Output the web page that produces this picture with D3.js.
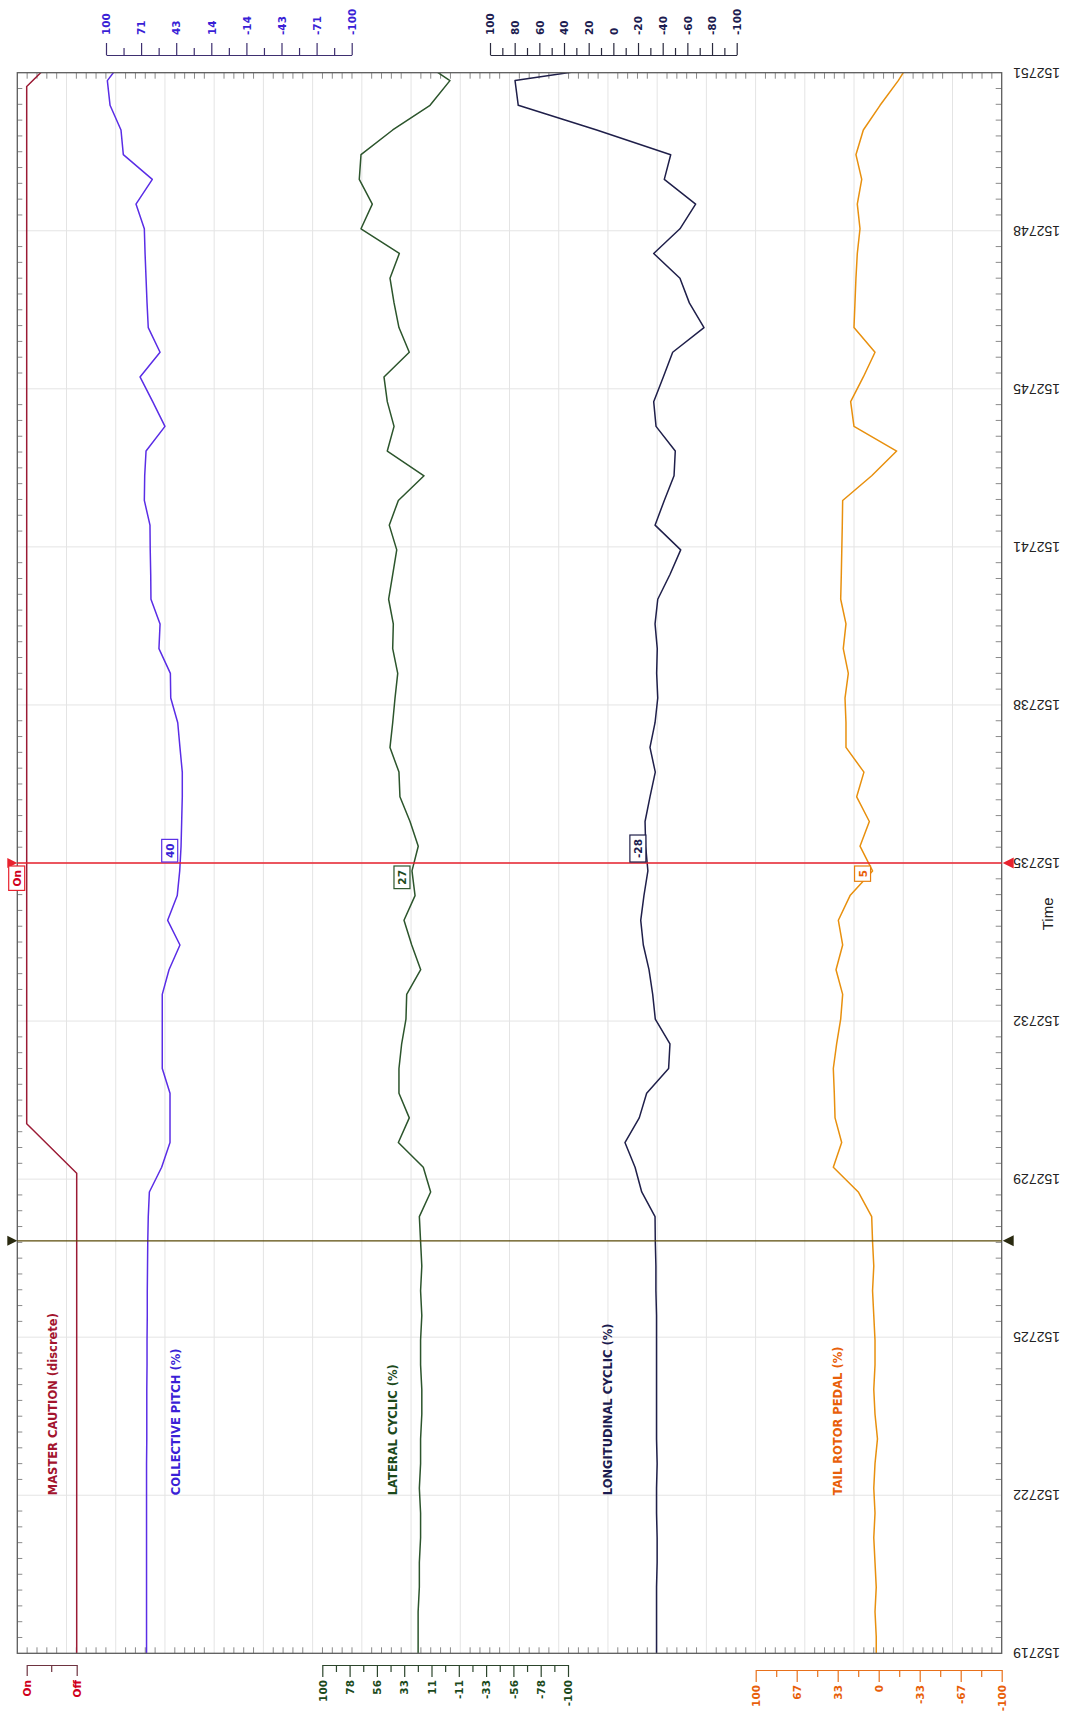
<!DOCTYPE html>
<html>
<head>
<meta charset="utf-8">
<script src="https://cdn.jsdelivr.net/npm/d3@7"></script>
<style>
  html, body { margin: 0; padding: 0; background: #ffffff; }
  svg { display: block; }
  .tick-label { font-family: "DejaVu Sans", Verdana, sans-serif; font-weight: bold; font-size: 10.5px; }
  .series-title { font-family: "DejaVu Sans", Verdana, sans-serif; font-weight: bold; font-size: 11.5px; }
  .time-label { font-family: "Liberation Sans", Arial, sans-serif; font-size: 14px; fill: #222; }
  .value-box text { font-family: "DejaVu Sans", Verdana, sans-serif; font-weight: bold; font-size: 10.5px; }
</style>
</head>
<body>
<svg id="chart" width="1073" height="1722"></svg>
<script>
// ---- Recorder data: seconds past 15:27:00, 2 Hz frames ----
const sampleTimes = d3.range(66).map(i => 18.84 + 0.5 * i);

const collectivePitch = [67, 67, 67, 67, 67, 67, 67, 67, 67, 66.8, 66.8, 66.8, 66.6, 66.6, 66.4, 66.4, 66.2, 66,
  65.6, 64.7, 54.7, 47.9, 47.9, 47.9, 54.2, 54.2, 54.2, 54.2, 48.7, 39.8, 49.8, 42, 40, 38.9, 38.4, 37.9, 37.9,
  39.8, 41.6, 47.3, 47.6, 56.9, 56, 63.4, 63.6, 64, 64.2, 68.8, 68.5, 67.4, 52, 62, 72.3, 56, 65.6, 66.6, 67.4,
  68.2, 68.8, 75.6, 62.3, 85.9, 87.8, 96.7, 98.9, 83.6];

const lateralCyclic = [22, 22, 22, 21, 21, 20, 20, 21, 20, 20, 19, 19, 20, 20, 19, 20, 19, 20,
  21, 11.8, 17.8, 38.1, 29.2, 37.6, 37.6, 35.4, 31.9, 31.3, 19.9, 27.2, 33.5, 24.5, 27, 21.9, 28.6, 36.8, 37.6,
  44.9, 42.7, 40.8, 38.6, 42.7, 42.2, 46, 42.7, 39.4, 45.5, 38.1, 17.2, 47.1, 41.6, 47.1, 49.8, 29.2, 37.6, 41.6,
  44.9, 37.3, 68.5, 59.3, 69.9, 68.5, 42.7, 12.3, -3.9, 26.2];

const longitudinalCyclic = [-35, -35, -35, -35, -35.5, -35.5, -35, -35, -35.5, -35, -35, -35, -35, -35, -35, -34.5, -34.5, -34,
  -33.8, -23, -17.6, -9.4, -21, -27, -44.8, -45.9, -34, -31.9, -28.9, -24.3, -22.2, -24.8, -28, -26.2, -25.7, -29.7,
  -34, -29.7, -33.8, -36, -35.1, -35.6, -33.8, -36, -45.9, -54.6, -33.8, -41.3, -49.2, -50.2, -34.6, -32.7, -40.5,
  -48.1, -73.5, -61.6, -54, -32.7, -54, -66.7, -41.3, -46.5, 13.5, 77.1, 79.7, -55];

const tailRotorPedal = [2, 2, 3, 2, 3, 4, 3, 4, 3, 1, 3, 4, 3, 3, 4, 5, 4, 5,
  5.7, 16.6, 36.9, 30.1, 35.5, 36.1, 36.9, 34.2, 30.9, 29.3, 34.7, 29.3, 32.8, 23.3, 5, 15.2, 7.6, 17.9, 12,
  26.6, 26.6, 27.4, 24.7, 28.8, 26.6, 30.9, 30.4, 30, 29.6, 29.3, 5.7, -14.6, 20.1, 22.8, 12.5, 3, 20.1, 19.3,
  18.5, 17.4, 15.2, 17.4, 13.8, 18.5, 12.5, -1.1, -15.9, -28.7];

// Discrete parameter, 1 Hz frames
const masterTimes = d3.range(34).map(i => 18.72 + i);
const masterCaution = ["Off", "Off", "Off", "Off", "Off", "Off", "Off", "Off", "Off", "Off", "Off",
  "On", "On", "On", "On", "On", "On", "On", "On", "On", "On", "On", "On", "On", "On", "On", "On", "On", "On", "On",
  "On", "On", "On", "Off"];

// Axis tick labels
const timeTickLabels = ["152719", "152722", "152725", "152729", "152732", "152735", "152738", "152741", "152745", "152748", "152751"];
const collectiveTicks = ["100", "71", "43", "14", "-14", "-43", "-71", "-100"];
const longitudinalTicks = ["100", "80", "60", "40", "20", "0", "-20", "-40", "-60", "-80", "-100"];
const lateralTicks = ["100", "78", "56", "33", "11", "-11", "-33", "-56", "-78", "-100"];
const tailTicks = ["100", "67", "33", "0", "-33", "-67", "-100"];
const masterTicks = ["On", "Off"];

// Cursors
const cursorTime = 35.0;      // 15:27:35
const markerTime = 27.35;

// ---- Layout ----
const plot = { left: 17.3, right: 1001.7, top: 72.7, bottom: 1653.3 };
const svg = d3.select("#chart");

const tScale = d3.scaleLinear().domain([19, 51]).range([plot.bottom, plot.top]);
const gridX = d3.scaleLinear().domain([0, 20]).range([plot.left, plot.right]);

const colX = d3.scaleLinear().domain([100, -100]).range([106, 351.7]);
const latX = d3.scaleLinear().domain([100, -100]).range([322.3, 568]);
const lonX = d3.scaleLinear().domain([100, -100]).range([490, 736.7]);
const tailX = d3.scaleLinear().domain([100, -100]).range([755.7, 1001.7]);
const masterX = d3.scalePoint().domain(masterTicks).range([26.7, 76.7]);

const timeTickValues = d3.range(11).map(i => 19 + 3.2 * i);

// ---- Grid ----
const grid = svg.append("g");
grid.selectAll("line.gx").data(d3.range(1, 20)).join("line")
  .attr("class", "gx")
  .attr("x1", d => gridX(d)).attr("x2", d => gridX(d))
  .attr("y1", plot.top).attr("y2", plot.bottom)
  .attr("stroke", "#e4e4e4").attr("stroke-width", 1);
grid.selectAll("line.gy").data(timeTickValues.slice(1, -1)).join("line")
  .attr("class", "gy")
  .attr("y1", d => tScale(d)).attr("y2", d => tScale(d))
  .attr("x1", plot.left).attr("x2", plot.right)
  .attr("stroke", "#e4e4e4").attr("stroke-width", 1);

// Edge minor ticks
const minorX = d3.range(1, 100).filter(i => i % 5 !== 0).map(i => i / 5);
const minorT = d3.range(1, 100).filter(i => i % 10 !== 0).map(i => 19 + 0.32 * i);
const edge = svg.append("g").attr("stroke", "#8a8a8a").attr("stroke-width", 1);
edge.selectAll("line.mt").data(minorX).join("line").attr("class", "mt")
  .attr("x1", d => gridX(d)).attr("x2", d => gridX(d)).attr("y1", plot.top).attr("y2", plot.top + 6);
edge.selectAll("line.mb").data(minorX).join("line").attr("class", "mb")
  .attr("x1", d => gridX(d)).attr("x2", d => gridX(d)).attr("y1", plot.bottom).attr("y2", plot.bottom - 6);
edge.selectAll("line.ml").data(minorT).join("line").attr("class", "ml")
  .attr("y1", d => tScale(d)).attr("y2", d => tScale(d)).attr("x1", plot.left).attr("x2", plot.left + 5);
edge.selectAll("line.mr").data(minorT).join("line").attr("class", "mr")
  .attr("y1", d => tScale(d)).attr("y2", d => tScale(d)).attr("x1", plot.right).attr("x2", plot.right - 6);

// ---- Clip ----
svg.append("defs").append("clipPath").attr("id", "plot-clip")
  .append("rect").attr("x", plot.left).attr("y", plot.top)
  .attr("width", plot.right - plot.left).attr("height", plot.bottom - plot.top);

// ---- Series ----
const series = [
  { name: "COLLECTIVE PITCH (%)", values: collectivePitch, x: colX, line: "#5a2de6", text: "#3a1fd6", axis: "#3e2f70",
    box: "#5a2de6", ticks: collectiveTicks, side: "top", axisY: 55, titleX: 180, boxSide: "above" },
  { name: "LATERAL CYCLIC (%)", values: lateralCyclic, x: latX, line: "#2c552c", text: "#1c4a1c", axis: "#2c452c",
    box: "#2c552c", ticks: lateralTicks, side: "bottom", axisY: 1665, titleX: 396.5, boxSide: "below" },
  { name: "LONGITUDINAL CYCLIC (%)", values: longitudinalCyclic, x: lonX, line: "#1f1f4a", text: "#1c1c50", axis: "#2a2a3e",
    box: "#1f1f4a", ticks: longitudinalTicks, side: "top", axisY: 55, titleX: 611.7, boxSide: "above" },
  { name: "TAIL ROTOR PEDAL (%)", values: tailRotorPedal, x: tailX, line: "#e8900e", text: "#e8600a", axis: "#e8701a",
    box: "#e8800e", ticks: tailTicks, side: "bottom", axisY: 1670, titleX: 841.7, boxSide: "below" }
];

const lines = svg.append("g").attr("clip-path", "url(#plot-clip)");

// Master caution (discrete)
const masterData = masterTimes.map((t, i) => ({ t, s: masterCaution[i] }));
lines.append("path")
  .datum(masterData)
  .attr("fill", "none").attr("stroke", "#9b1b35").attr("stroke-width", 1.5)
  .attr("d", d3.line().x(d => masterX(d.s)).y(d => tScale(d.t)));

series.forEach(s => {
  const data = sampleTimes.map((t, i) => ({ t, v: s.values[i] }));
  lines.append("path")
    .datum(data)
    .attr("fill", "none").attr("stroke", s.line).attr("stroke-width", 1.5)
    .attr("stroke-linejoin", "round")
    .attr("d", d3.line().x(d => s.x(d.v)).y(d => tScale(d.t)));
});

// ---- Value axes ----
function styleAxisLabels(g, side, color, offset) {
  g.selectAll(".tick text")
    .attr("class", "tick-label")
    .attr("fill", color)
    .attr("x", 0).attr("y", 0).attr("dy", "0.36em")
    .attr("text-anchor", side === "top" ? "start" : "end")
    .attr("transform", `translate(0,${offset}) rotate(-90)`);
}

series.forEach(s => {
  const n = s.ticks.length;
  const major = d3.range(n).map(i => 100 - 200 * i / (n - 1));
  const minor = d3.range(n - 1).map(i => (major[i] + major[i + 1]) / 2);
  const axisFn = s.side === "top" ? d3.axisTop : d3.axisBottom;
  const g = svg.append("g").attr("transform", `translate(0,${s.axisY})`);
  g.call(axisFn(s.x).tickValues(major).tickFormat((d, i) => s.ticks[i]).tickSize(12).tickSizeOuter(0));
  g.append("g").call(axisFn(s.x).tickValues(minor).tickFormat("").tickSize(7).tickSizeOuter(0))
    .select(".domain").remove();
  g.selectAll("path.domain, line").attr("stroke", s.axis).attr("stroke-width", 1.2);
  styleAxisLabels(g, s.side, s.text, s.side === "top" ? -20 : 15);
});

// Master caution axis
{
  const g = svg.append("g").attr("transform", "translate(0,1665)");
  g.call(d3.axisBottom(masterX).tickSize(11).tickSizeOuter(0));
  g.append("line")
    .attr("x1", (masterX("On") + masterX("Off")) / 2).attr("x2", (masterX("On") + masterX("Off")) / 2)
    .attr("y1", 0).attr("y2", 7);
  g.selectAll("path.domain, line").attr("stroke", "#6e3340").attr("stroke-width", 1.2);
  styleAxisLabels(g, "bottom", "#d0001c", 15);
}

// ---- Series titles ----
const titleY = tScale(timeTickValues[1]);
svg.append("text").attr("class", "series-title")
  .attr("transform", `translate(56.7,${titleY}) rotate(-90)`)
  .attr("fill", "#a3142e").text("MASTER CAUTION (discrete)");
series.forEach(s => {
  svg.append("text").attr("class", "series-title")
    .attr("transform", `translate(${s.titleX},${titleY}) rotate(-90)`)
    .attr("fill", s.text).text(s.name);
});

// ---- Time axis ----
svg.selectAll("text.time-label").data(timeTickValues).join("text")
  .attr("class", "time-label")
  .attr("transform", d => `translate(1060,${tScale(d)}) rotate(180)`)
  .attr("text-anchor", "start").attr("dominant-baseline", "central")
  .text((d, i) => timeTickLabels[i]);
svg.append("text").attr("class", "time-label")
  .style("font-size", "15px")
  .attr("transform", `translate(1047,${tScale(33.97)}) rotate(-90)`)
  .attr("text-anchor", "middle").attr("dominant-baseline", "central")
  .text("Time");

// ---- Frame ----
svg.append("rect")
  .attr("x", plot.left).attr("y", plot.top)
  .attr("width", plot.right - plot.left).attr("height", plot.bottom - plot.top)
  .attr("fill", "none").attr("stroke", "#5c5c5c").attr("stroke-width", 1.3);

// ---- Cursors ----
function cursor(t, color, markColor) {
  const y = tScale(t);
  const g = svg.append("g");
  g.append("line").attr("x1", plot.left).attr("x2", plot.right).attr("y1", y).attr("y2", y)
    .attr("stroke", color).attr("stroke-width", 1.3);
  g.append("path").attr("fill", markColor)
    .attr("d", `M${plot.left},${y} L${plot.left - 10},${y - 5} L${plot.left - 10},${y + 5} Z`);
  g.append("path").attr("fill", markColor)
    .attr("d", `M${plot.right + 1},${y} L${plot.right + 12},${y - 5.5} L${plot.right + 12},${y + 5.5} Z`);
}
cursor(markerTime, "#5a4a08", "#2a2a10");
cursor(cursorTime, "#e8222e", "#e8222e");

// ---- Cursor value readouts ----
const cy = tScale(cursorTime);
const nearest = d3.minIndex(sampleTimes, t => Math.abs(t - cursorTime));
const nearestMaster = d3.minIndex(masterTimes, t => Math.abs(t - cursorTime));

function valueBox(xPos, label, side, stroke, fill) {
  const g = svg.append("g").attr("class", "value-box");
  const rect = g.append("rect").attr("fill", "#ffffff").attr("stroke", stroke).attr("stroke-width", 1.2);
  const txt = g.append("text").attr("fill", fill).text(label);
  const len = txt.node().getComputedTextLength();
  const h = len + 8, w = 16;
  const x1 = xPos - 2 - w;
  const y1 = side === "above" ? cy - 1 - h : cy + 3;
  rect.attr("x", x1).attr("y", y1).attr("width", w).attr("height", h);
  txt.attr("text-anchor", "middle").attr("dominant-baseline", "central")
    .attr("transform", `translate(${x1 + w / 2},${y1 + h / 2}) rotate(-90)`);
}

valueBox(masterX(masterCaution[nearestMaster]), masterCaution[nearestMaster], "below", "#e8222e", "#d0001c");
series.forEach(s => {
  const v = s.values[nearest];
  valueBox(s.x(v), String(Math.round(v)), s.boxSide, s.box, s.text);
});
</script>
</body>
</html>
